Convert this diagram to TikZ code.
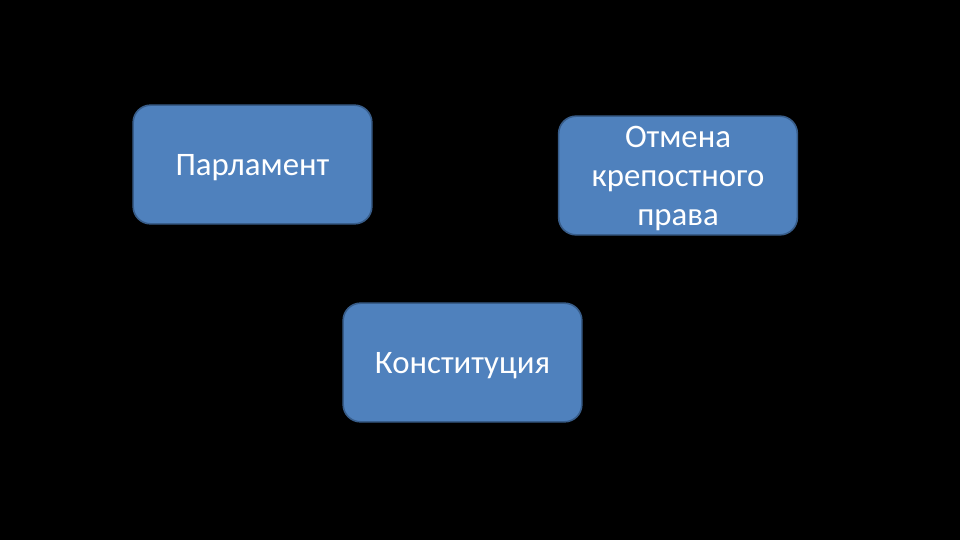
\documentclass[tikz,border=0pt]{standalone}
\usepackage{fontspec}
\setmainfont{Carlito}
\usepackage{xcolor}
\definecolor{boxblue}{RGB}{79, 129, 189}
\definecolor{edgeblue}{RGB}{56, 93, 138}

\begin{document}
\begin{tikzpicture}[x=0.75pt, y=-0.75pt,
    termbox/.style={draw=edgeblue, fill=boxblue, line width=1.2pt, rounded corners=13pt,
        minimum width=179pt, minimum height=89pt, align=center, text=white,
        font=\fontsize{24.6}{29.3}\selectfont, inner sep=2pt, text depth=0pt}]
    % background
    \fill[black] (0,0) rectangle (960,540);
    \useasboundingbox (0,0) rectangle (960,540);

    % Parliament - top left
    \node[termbox] (parl) at (252.5,164.5) {Парламент};
    % Abolition of serfdom - top right
    \node[termbox] (serf) at (678,175.5) {Отмена\\крепостного\\права};
    % Constitution - bottom middle
    \node[termbox] (const) at (462.5,362.5) {Конституция};
\end{tikzpicture}
\end{document}
